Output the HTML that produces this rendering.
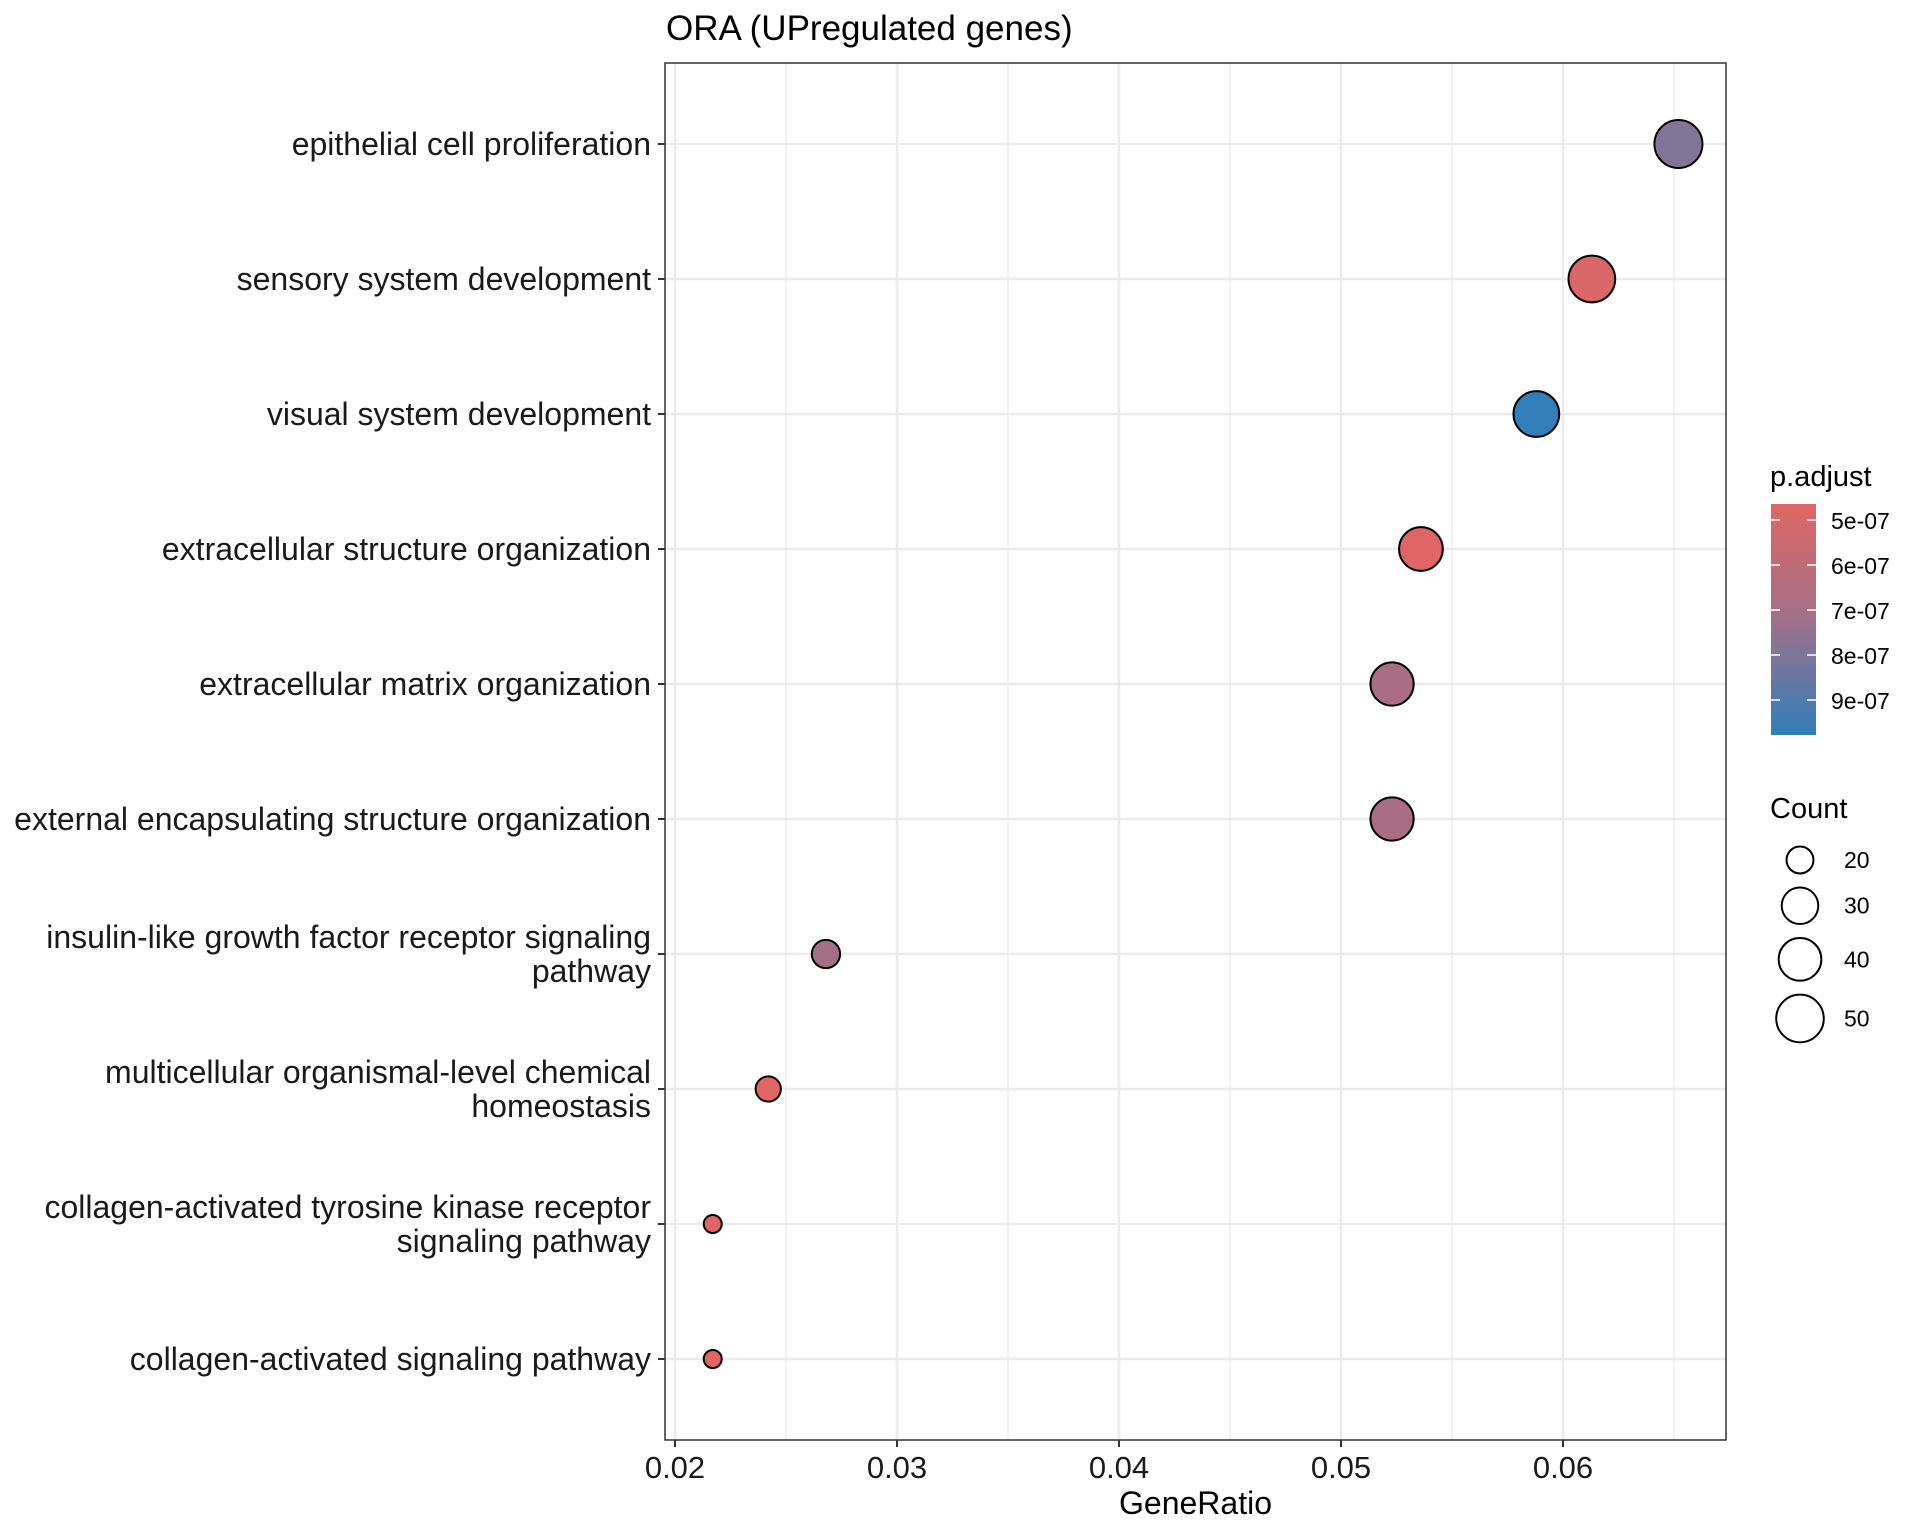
<!DOCTYPE html>
<html><head><meta charset="utf-8"><style>body{margin:0;background:#fff}svg{display:block;font-family:"Liberation Sans",Arial,sans-serif}</style></head>
<body>
<svg id="chart" width="1920" height="1536" viewBox="0 0 1920 1536">
<rect width="1920" height="1536" fill="#fff"/>
<g id="g"></g>
</svg>
<script>
const categories = [
 ["epithelial cell proliferation"],
 ["sensory system development"],
 ["visual system development"],
 ["extracellular structure organization"],
 ["extracellular matrix organization"],
 ["external encapsulating structure organization"],
 ["insulin-like growth factor receptor signaling","pathway"],
 ["multicellular organismal-level chemical","homeostasis"],
 ["collagen-activated tyrosine kinase receptor","signaling pathway"],
 ["collagen-activated signaling pathway"]
];
const geneRatio = [0.0652,0.0613,0.0588,0.0536,0.0523,0.0523,0.0268,0.0242,0.0217,0.0217];
const counts = [51,48,46,42,41,41,21,19,17,17];
const padjust = [7.9e-7,4.9e-7,9.77e-7,4.7e-7,6.8e-7,6.8e-7,7.0e-7,4.7e-7,4.65e-7,4.65e-7];
const xTicks = [0.02,0.03,0.04,0.05,0.06];
const xTickLabels = ["0.02","0.03","0.04","0.05","0.06"];
const colorTicks = [5e-7,6e-7,7e-7,8e-7,9e-7];
const colorTickLabels = ["5e-07","6e-07","7e-07","8e-07","9e-07"];
const sizeBreaks = [20,30,40,50];

const NS="http://www.w3.org/2000/svg", g=document.getElementById('g');
function el(t,a,p){const e=document.createElementNS(NS,t);for(const k in a)e.setAttribute(k,a[k]);(p||g).appendChild(e);return e;}
const L=665,R=1726,T=63,B=1440;
const x=v=>675+(v-0.02)*22200;
const y=i=>144+i*135;
const cMin=4.64e-7,cMax=9.78e-7;
const cmap=v=>{let t=Math.max(0,Math.min(1,(v-cMin)/(cMax-cMin)));
 const s=[[0,[224,102,99]],[0.5,[160,112,138]],[1,[50,126,186]]];
 let a=s[0],b=s[1]; if(t>0.5){a=s[1];b=s[2];}
 const u=(t-a[0])/(b[0]-a[0]);
 return 'rgb('+a[1].map((c,k)=>Math.round(c+(b[1][k]-c)*u)).join(',')+')';};
const r=c=>9+15*Math.sqrt(Math.max(0,(c-17)/34));
const cy=v=>520+(v-5e-7)/1e-7*45;

// grid
for(let v=0.025;v<0.068;v+=0.01){const l=el('line',{x1:x(v),x2:x(v),y1:T,y2:B,stroke:'#ebebeb','stroke-width':1.3});}
xTicks.forEach(v=>{const l=el('line',{x1:x(v),x2:x(v),y1:T,y2:B,stroke:'#ebebeb','stroke-width':2.6});});
categories.forEach((c,i)=>{const l=el('line',{x1:L,x2:R,y1:y(i),y2:y(i),stroke:'#ebebeb','stroke-width':2.6});});
// points
categories.forEach((c,i)=>{const p=el('circle',{cx:x(geneRatio[i]),cy:y(i),r:r(counts[i]),fill:cmap(padjust[i]),stroke:'#000','stroke-width':2});

});
const border=el('rect',{x:L,y:T,width:R-L,height:B-T,fill:'none',stroke:'#333','stroke-width':1.5});

// y labels
categories.forEach((c,i)=>{el('line',{x1:L-7,x2:L,y1:y(i),y2:y(i),stroke:'#333','stroke-width':2});
 const t=el('text',{x:651,'text-anchor':'end','font-size':32,fill:'#1a1a1a'});
 
 const n=c.length;c.forEach((s,k)=>{const ts=el('tspan',{x:651,y:y(i)+11+(k-(n-1)/2)*34},t);ts.textContent=s;});});
// x ticks
xTicks.forEach((v,i)=>{el('line',{x1:x(v),x2:x(v),y1:B,y2:B+7,stroke:'#333','stroke-width':2});
 const t=el('text',{x:x(v),y:1478,'text-anchor':'middle','font-size':31,fill:'#1a1a1a'});t.textContent=xTickLabels[i];
 });
let t=el('text',{x:(L+R)/2,y:1514,'text-anchor':'middle','font-size':32});t.textContent='GeneRatio';
t=el('text',{x:666,y:40,'font-size':35});t.textContent='ORA (UPregulated genes)';
// colorbar
const defs=el('defs',{});const lg=el('linearGradient',{id:'cb',x1:0,y1:0,x2:0,y2:1},defs);
for(let k=0;k<=10;k++){el('stop',{offset:k/10,'stop-color':cmap(cMin+(cMax-cMin)*k/10)},lg);}
t=el('text',{x:1770,y:486,'font-size':29});t.textContent='p.adjust';
const cb=el('rect',{x:1771,y:504,width:45,height:231,fill:'url(#cb)'});
colorTicks.forEach((v,i)=>{el('line',{x1:1771,x2:1780,y1:cy(v),y2:cy(v),stroke:'#fff','stroke-width':1.5});el('line',{x1:1807,x2:1816,y1:cy(v),y2:cy(v),stroke:'#fff','stroke-width':1.5});
 const s=el('text',{x:1831,y:cy(v)+9,'font-size':23});s.textContent=colorTickLabels[i];});
// size legend
t=el('text',{x:1770,y:818,'font-size':29});t.textContent='Count';
let ly=860;
sizeBreaks.forEach((c,i)=>{const rr=r(c);if(i>0)ly+=r(sizeBreaks[i-1])+rr+14;
 const ci=el('circle',{cx:1800,cy:ly,r:rr,fill:'none',stroke:'#000','stroke-width':2});
 const s=el('text',{x:1844,y:ly+8,'font-size':23});s.textContent=c;});
</script>
</body></html>
